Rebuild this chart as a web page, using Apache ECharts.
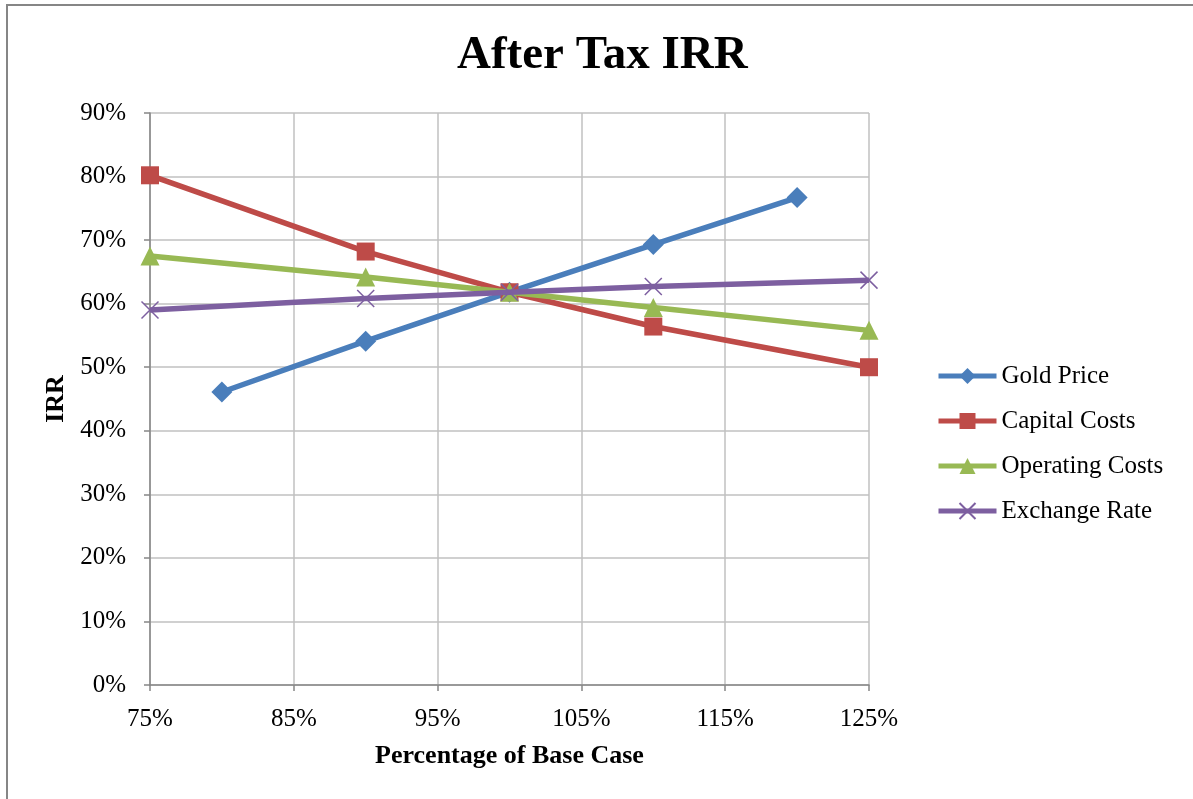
<!DOCTYPE html>
<html>
<head>
<meta charset="utf-8">
<script src="https://cdn.jsdelivr.net/npm/echarts@6/dist/echarts.min.js"></script>
<style>
html,body{margin:0;padding:0;background:#fff;}
#main{width:1193px;height:799px;}
</style>
</head>
<body>
<div id="main"></div>
<script>
const titleText = 'After Tax IRR';
const xAxisName = 'Percentage of Base Case';
const yAxisName = 'IRR';
const xTicks = [75, 85, 95, 105, 115, 125];
const seriesNames = ['Gold Price', 'Capital Costs', 'Operating Costs', 'Exchange Rate'];
const goldX = [80, 90, 100, 110, 120];
const goldY = [46.1, 54.1, 61.8, 69.3, 76.7];
const capX = [75, 90, 100, 110, 125];
const capY = [80.2, 68.2, 61.8, 56.4, 50.0];
const opX = [75, 90, 100, 110, 125];
const opY = [67.5, 64.2, 61.8, 59.4, 55.8];
const exX = [75, 90, 100, 110, 125];
const exY = [59.0, 60.8, 61.8, 62.7, 63.7];

const colors = ['#4a7ebb', '#be4b48', '#98b954', '#7d5fa0'];
const font = '"Liberation Serif", "Times New Roman", serif';

function pairs(xs, ys) { return xs.map((x, i) => [x, ys[i]]); }

const chart = echarts.init(document.getElementById('main'), null, {renderer: 'canvas'});
const crossPath = 'path://M0,0L10,10M10,0L0,10';

const symbols = ['diamond', 'rect', 'triangle', crossPath];
const sizes = [21, 18, 19, 17];
const datas = [pairs(goldX, goldY), pairs(capX, capY), pairs(opX, opY), pairs(exX, exY)];

const series = seriesNames.map((name, i) => {
  const s = {
    name: name,
    type: 'line',
    data: datas[i],
    symbol: symbols[i],
    symbolSize: sizes[i],
    showAllSymbol: true,
    lineStyle: {color: colors[i], width: 5.5},
    itemStyle: {color: colors[i]},
    emphasis: {disabled: true},
    z: 2 + i,
    animation: false
  };
  if (i === 3) {
    s.itemStyle = {color: 'rgba(0,0,0,0)', borderColor: colors[i], borderWidth: 1.5};
  }
  return s;
});

chart.setOption({
  backgroundColor: '#ffffff',
  animation: false,
  title: {
    text: titleText,
    left: 452,
    top: 27,
    itemGap: 0,
    textStyle: {fontFamily: font, fontSize: 47, fontWeight: 'bold', color: '#000'}
  },
  graphic: [
    {type: 'line', shape: {x1: 6, y1: 5, x2: 1193, y2: 5}, style: {stroke: '#868686', lineWidth: 2}, silent: true},
    {type: 'line', shape: {x1: 7, y1: 4, x2: 7, y2: 799}, style: {stroke: '#868686', lineWidth: 2}, silent: true}
  ],
  legend: {
    orient: 'vertical',
    left: 931,
    top: 358,
    itemWidth: 58,
    itemHeight: 20,
    itemGap: 19,
    lineStyle: {width: 5},
    textStyle: {fontFamily: font, fontSize: 25, lineHeight: 26, color: '#000'},
    data: seriesNames
  },
  grid: {left: 150, right: 324, top: 113, bottom: 114, containLabel: false},
  xAxis: {
    type: 'value',
    min: 75,
    max: 125,
    name: xAxisName,
    nameLocation: 'middle',
    nameGap: 58,
    nameTextStyle: {fontFamily: font, fontSize: 26, fontWeight: 'bold', color: '#000'},
    axisLine: {show: true, lineStyle: {color: '#868686', width: 1.5}},
    axisTick: {show: true, customValues: xTicks, length: 6, lineStyle: {color: '#868686', width: 1.5}},
    axisLabel: {customValues: xTicks, formatter: '{value}%', fontFamily: font, fontSize: 25, color: '#000', margin: 22},
    splitLine: {show: true, lineStyle: {color: '#c0c0c0', width: 1.5}}
  },
  yAxis: {
    type: 'value',
    min: 0,
    max: 90,
    interval: 10,
    name: yAxisName,
    nameLocation: 'middle',
    nameGap: 80,
    nameTextStyle: {fontFamily: font, fontSize: 26, fontWeight: 'bold', color: '#000'},
    axisLine: {show: true, lineStyle: {color: '#868686', width: 1.5}},
    axisTick: {show: true, length: 6, lineStyle: {color: '#868686', width: 1.5}},
    axisLabel: {formatter: '{value}%', fontFamily: font, fontSize: 25, color: '#000', margin: 24},
    splitLine: {show: true, lineStyle: {color: '#c0c0c0', width: 1.5}}
  },
  series: series
});
</script>
</body>
</html>
